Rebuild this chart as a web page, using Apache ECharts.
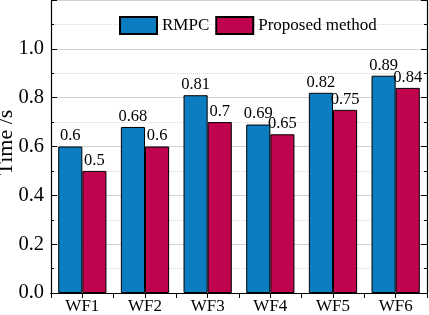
<!DOCTYPE html>
<html>
<head>
<meta charset="utf-8">
<script src="https://cdn.jsdelivr.net/npm/echarts@6/dist/echarts.min.js"></script>
<style>
    html, body { margin: 0; padding: 0; background: #fff; }
    #chart { width: 429px; height: 315px; }
</style>
</head>
<body>
<div id="chart"></div>
<script>
const categories = ["WF1", "WF2", "WF3", "WF4", "WF5", "WF6"];
const rmpc = [0.6, 0.68, 0.81, 0.69, 0.82, 0.89];
const proposed = [0.5, 0.6, 0.7, 0.65, 0.75, 0.84];

const font = "'Liberation Serif', 'Times New Roman', serif";
const colorBlue = "#0C7DC0";
const colorRed = "#C0034F";
const colorAxis = "#000";

const chart = echarts.init(document.getElementById("chart"));

// общий вид подписей над столбиками
const barLabel = {
    show: true,
    position: "top",
    distance: 2,
    color: "#000",
    fontSize: 16.5,
    fontFamily: font
};

chart.setOption({
    animation: false,
    grid: { left: 51, right: 2, top: 0, bottom: 22, outerBoundsMode: "none" },
    legend: {
        left: 114,
        top: 11,
        itemWidth: 37,
        itemHeight: 17,
        itemGap: 6,
        icon: "rect",
        textStyle: { fontSize: 17, fontFamily: font, color: "#000" },
        data: ["RMPC", "Proposed method"]
    },
    xAxis: [
        {
            type: "category",
            data: categories,
            axisLine: { lineStyle: { color: colorAxis, width: 1.2 } },
            axisTick: { inside: true, length: 4, lineStyle: { color: colorAxis } },
            axisLabel: { fontSize: 17, fontFamily: font, color: "#000", margin: 5 },
            splitLine: { show: false }
        },
        {
            type: "value",
            position: "top",
            min: 0,
            max: 12,
            interval: 1,
            axisLine: { show: true, lineStyle: { color: colorAxis, width: 1.2 } },
            axisTick: { show: true, inside: true, length: 5, lineStyle: { color: colorAxis } },
            axisLabel: { show: false },
            splitLine: { show: false }
        }
    ],
    yAxis: [
        {
            type: "value",
            min: 0,
            max: 1.2,
            interval: 0.2,
            name: "Time /s",
            nameLocation: "middle",
            nameGap: 34,
            nameMoveOverlap: false,
            nameTextStyle: { fontSize: 22, fontFamily: font, color: "#000", padding: [0, 0, 0, 8] },
            axisLine: { show: true, lineStyle: { color: colorAxis, width: 1.2 } },
            axisTick: { show: true, inside: true, length: 6, lineStyle: { color: colorAxis } },
            minorTick: { show: true, splitNumber: 2, length: 3, lineStyle: { color: colorAxis } },
            axisLabel: {
                fontSize: 20.5,
                fontFamily: font,
                color: "#000",
                margin: 7,
                showMaxLabel: false,
                formatter: v => v.toFixed(1)
            },
            splitLine: { show: true, lineStyle: { color: "#d0d0d0", width: 1 } },
            minorSplitLine: { show: true, lineStyle: { color: "#d8d8d8", type: "dotted" } }
        },
        {
            type: "value",
            position: "right",
            min: 0,
            max: 1.2,
            interval: 0.2,
            axisLine: { show: true, lineStyle: { color: colorAxis, width: 1.2 } },
            axisTick: { show: true, inside: true, length: 6, lineStyle: { color: colorAxis } },
            minorTick: { show: true, splitNumber: 2, length: 3, lineStyle: { color: colorAxis } },
            axisLabel: { show: false },
            splitLine: { show: false }
        }
    ],
    series: [
        {
            name: "RMPC",
            type: "bar",
            data: rmpc,
            barGap: "0%",
            barCategoryGap: "23%",
            itemStyle: { color: colorBlue, borderColor: "#000", borderWidth: 1 },
            label: barLabel
        },
        {
            name: "Proposed method",
            type: "bar",
            data: proposed,
            barGap: "0%",
            barCategoryGap: "23%",
            itemStyle: { color: colorRed, borderColor: "#000", borderWidth: 1 },
            label: barLabel
        }
    ]
});
</script>
</body>
</html>
